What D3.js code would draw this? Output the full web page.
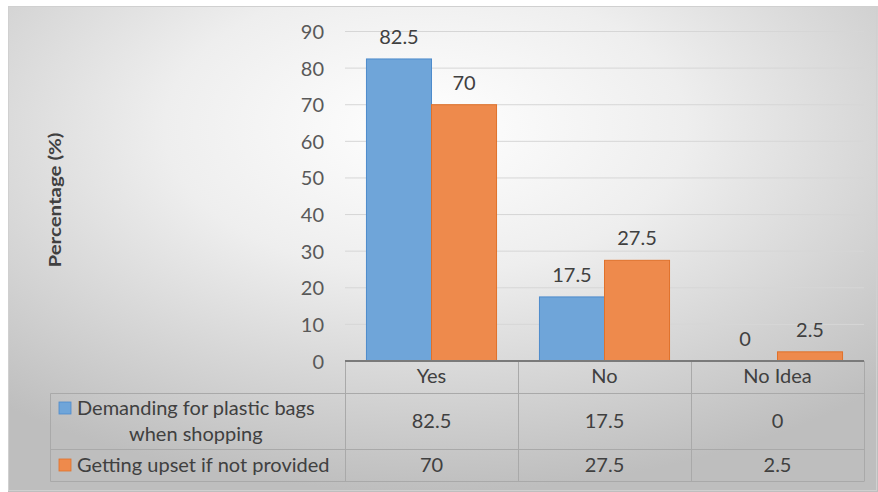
<!DOCTYPE html>
<html><head><meta charset="utf-8">
<script src="https://cdn.jsdelivr.net/npm/d3@7/dist/d3.min.js"></script>
<style>body{margin:0;background:#fff}svg{display:block}text{font-family:Lato,"Open Sans",sans-serif}</style>
</head><body>
<svg id="c" width="878" height="492"></svg>
<script>
const categories = ["Yes", "No", "No Idea"];
const seriesNames = ["Demanding for plastic bags when shopping", "Getting upset if not provided"];
const legendLines = [["Demanding for plastic bags", "when shopping"], ["Getting upset if not provided"]];
const demanding = [82.5, 17.5, 0];
const upset = [70, 27.5, 2.5];
const yTicks = [0, 10, 20, 30, 40, 50, 60, 70, 80, 90];
const colors = ["#6fa5d9", "#ee8a4c"];
const strokes = ["#4d8bcc", "#e0712a"];

const FS = 20;
const seriesVals = [demanding, upset];
const svg = d3.select("#c");
const defs = svg.append("defs");
const g = defs.append("radialGradient").attr("id","bg").attr("cx","48%").attr("cy","25%").attr("r","75%");
g.append("stop").attr("offset","0").attr("stop-color","#ffffff");
g.append("stop").attr("offset","0.4").attr("stop-color","#eeeeee");
g.append("stop").attr("offset","1").attr("stop-color","#bebebe");
svg.append("rect").attr("x",8).attr("y",6).attr("width",870).attr("height",486).attr("fill","url(#bg)");
svg.append("rect").attr("x",8.5).attr("y",6.5).attr("width",868).attr("height",484).attr("fill","none").attr("stroke","#d0d0d0");

const left = 345, right = 864, y0 = 361, yTop = 31.5;
const y = d3.scaleLinear().domain([0, 90]).range([y0, yTop]);
const x = d3.scaleBand().domain(categories).range([left, right]).padding(0);
const x1 = d3.scaleBand().domain([0,1]).range([0, x.bandwidth()]).paddingInner(0).paddingOuter(0.33);

// gridlines
svg.append("g").selectAll("line").data(yTicks.filter(d=>d>0)).join("line")
  .attr("x1", left).attr("x2", right).attr("y1", d=>y(d)).attr("y2", d=>y(d))
  .attr("stroke", "#d6d6d6").attr("stroke-width", 1);

// y axis ticks via d3 axis
const yAxis = d3.axisLeft(y).tickValues(yTicks).tickSize(0).tickPadding(0);
const ya = svg.append("g").attr("transform", `translate(324,0)`).call(yAxis);
ya.select(".domain").remove();
ya.selectAll("text").attr("font-size", FS).attr("fill", "#595959").attr("font-family","Lato,sans-serif").attr("dy","0.35em");

// bars
seriesVals.forEach((vals, s) => {
  svg.append("g").selectAll("rect").data(vals.map((v,i)=>({v, c: categories[i]}))).join("rect")
    .attr("x", d => x(d.c) + x1(s)).attr("width", x1.bandwidth())
    .attr("y", d => y(d.v)).attr("height", d => y0 - y(d.v))
    .attr("fill", colors[s]).attr("stroke", d => d.v > 0 ? strokes[s] : "none").attr("stroke-width", 1);
  svg.append("g").selectAll("text").data(vals.map((v,i)=>({v, c: categories[i]}))).join("text")
    .attr("x", d => x(d.c) + x1(s) + x1.bandwidth()/2).attr("y", d => y(d.v) - 15)
    .attr("text-anchor","middle").attr("font-size", FS).attr("fill", "#404040").text(d => d.v);
});

// table
const tbl = svg.append("g").attr("stroke", "#a9a9a9").attr("stroke-width", 1).attr("fill","none");
const rowY = [361, 393, 449, 481];
const tl = 50.5;
tbl.append("line").attr("x1", tl).attr("x2", right).attr("y1", 393.5).attr("y2", 393.5);
tbl.append("line").attr("x1", tl).attr("x2", right).attr("y1", 449.5).attr("y2", 449.5);
tbl.append("line").attr("x1", tl).attr("x2", right).attr("y1", 481.5).attr("y2", 481.5);
tbl.append("line").attr("x1", tl).attr("x2", tl).attr("y1", 393.5).attr("y2", 481.5);
[...categories.map(c=>x(c)), right].forEach(xx => {
  tbl.append("line").attr("x1", Math.round(xx)+0.5).attr("x2", Math.round(xx)+0.5).attr("y1", 361).attr("y2", 481.5);
});
// axis line
svg.append("line").attr("x1", left).attr("x2", right).attr("y1", y0).attr("y2", y0).attr("stroke", "#7a7a7a").attr("stroke-width", 2);

// category labels
svg.append("g").selectAll("text").data(categories).join("text")
  .attr("x", d => x(d) + x.bandwidth()/2).attr("y", (rowY[0]+rowY[1])/2 - 1).attr("dy","0.35em")
  .attr("text-anchor","middle").attr("font-size", FS).attr("fill","#404040").text(d=>d);

// table values
seriesVals.forEach((vals, s) => {
  const cy = (rowY[s+1] + rowY[s+2]) / 2;
  svg.append("g").selectAll("text").data(vals.map((v,i)=>({v,c:categories[i]}))).join("text")
    .attr("x", d => x(d.c) + x.bandwidth()/2).attr("y", cy).attr("dy","0.35em")
    .attr("text-anchor","middle").attr("font-size", FS).attr("fill","#404040").text(d=>d.v);
});

// legend cells
legendLines.forEach((lines, s) => {
  const cy = (rowY[s+1] + rowY[s+2]) / 2;
  const lh = 26;
  const firstY = cy - (lines.length-1)*lh/2;
  const t0 = svg.append("text").attr("x", 77).attr("y", firstY).attr("dy","0.35em")
    .attr("font-size", FS).attr("fill","#404040").text(lines[0]);
  const w = t0.node().getComputedTextLength();
  for (let k = 1; k < lines.length; k++) {
    svg.append("text").attr("x", 77 + w/2).attr("y", firstY + k*lh).attr("dy","0.35em")
      .attr("text-anchor","middle").attr("font-size", FS).attr("fill","#404040").text(lines[k]);
  }
  svg.append("rect").attr("x", 59).attr("y", firstY - 6).attr("width", 12).attr("height", 12)
    .attr("fill", colors[s]).attr("stroke", strokes[s]).attr("stroke-width", 0.8);
});

// y title
svg.append("text").attr("transform", "translate(61,200) rotate(-90)").attr("text-anchor","middle")
  .attr("font-size", 17).attr("font-weight","bold").attr("fill","#404040")
  .attr("textLength", 135).attr("lengthAdjust", "spacingAndGlyphs").text("Percentage (%)");
</script>
</body></html>
